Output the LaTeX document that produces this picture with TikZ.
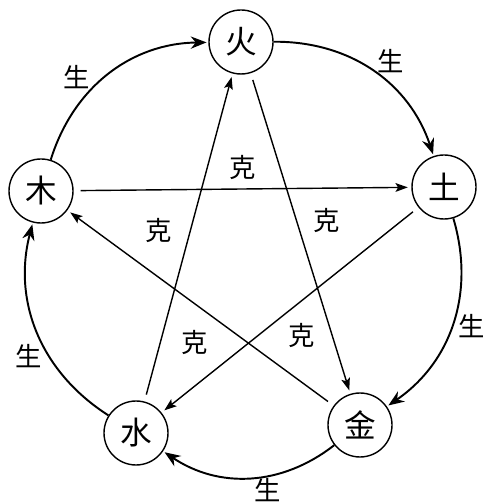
\documentclass[tikz,border=0pt]{standalone}
\usepackage{fontspec}
\newfontfamily\cjk{Noto Sans CJK SC}
\usepackage{tikz}
\usetikzlibrary{automata,arrows.meta}

\begin{document}
\begin{tikzpicture}[shorten >=1pt, auto,
    every state/.style={line width=0.8pt, minimum size=1.28cm, inner sep=0pt,
      font=\cjk\fontsize{18}{18}\selectfont},
    sheng/.style={-{Stealth[length=9pt,width=7pt]}, line width=1.1pt,
      font=\cjk\fontsize{15}{15}\selectfont},
    ke/.style={-{Stealth[length=7pt,width=5pt,inset=1.5pt]}, line width=0.8pt,
      shorten <=4pt, shorten >=2pt, font=\cjk\fontsize{15}{15}\selectfont}]
    \useasboundingbox (0,0) rectangle (10,10.08);

    \node[state] (huo) at (4.82,9.24) {火};
    \node[state] (tu)  at (8.88,6.34) {土};
    \node[state] (jin) at (7.20,1.58) {金};
    \node[state] (shui) at (2.72,1.42) {水};
    \node[state] (mu)  at (0.82,6.26) {木};

    \path[sheng]
    (mu) edge[bend left=36] node[pos=0.38, inner sep=0pt] {生} (huo)
    (huo) edge[bend left=36] node[pos=0.52, inner sep=0pt] {生} (tu)
    (tu) edge[bend left=36] node[pos=0.44, inner sep=1pt] {生} (jin)
    (jin) edge[bend left=36] node[pos=0.48, inner sep=0pt] {生} (shui)
    (shui) edge[bend left=36] node[pos=0.44, inner sep=0pt] {生} (mu);

    \path[ke]
    (mu) edge node[above=1.5pt] {克} (tu)
    (shui) edge node[pos=0.52, left=7pt] {克} (huo)
    (huo) edge node[pos=0.46, right=6pt] {克} (jin)
    (tu) edge node[pos=0.87, above=14pt] {克} (shui)
    (jin) edge node[pos=0.12, above=16pt] {克} (mu);
\end{tikzpicture}
\end{document}
